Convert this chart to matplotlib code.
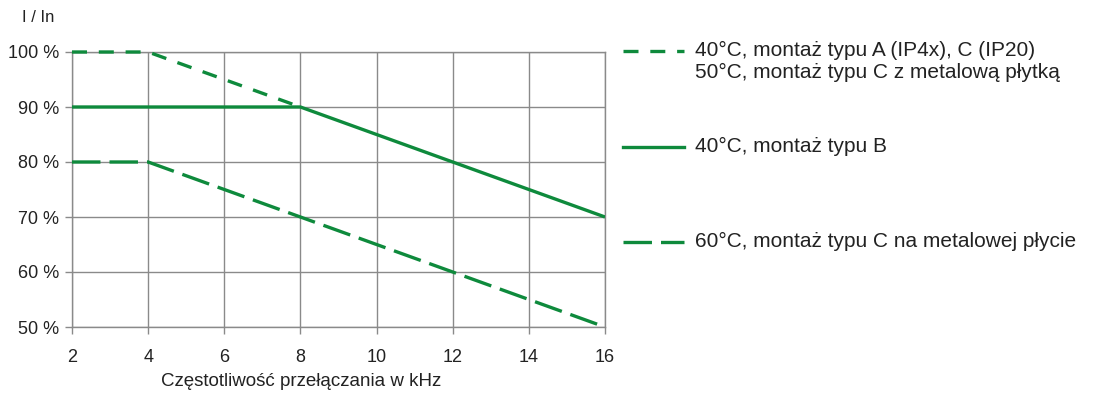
import matplotlib
matplotlib.use("Agg")
import matplotlib.pyplot as plt
from matplotlib.lines import Line2D

plt.rcParams['font.family'] = ['Liberation Sans', 'DejaVu Sans']
plt.rcParams['lines.scale_dashes'] = False

# frequency (kHz) and derating (%)
freq_a = [2, 4, 8]
curve_a = [100, 100, 90]        # 40°C A / C, 50°C C z płytką
freq_b = [2, 8, 16]
curve_b = [90, 90, 70]          # 40°C B
freq_c = [2, 4, 16]
curve_c = [80, 80, 50]          # 60°C C na metalowej płycie

x_ticks = [2, 4, 6, 8, 10, 12, 14, 16]
y_ticks = [50, 60, 70, 80, 90, 100]
legend_labels = [
    '40°C, montaż typu A (IP4x), C (IP20)\n50°C, montaż typu C z metalową płytką',
    '40°C, montaż typu B',
    '60°C, montaż typu C na metalowej płycie',
]

GREEN = '#0e8a3c'
GRAY = '#8a8a8a'
TXT = '#222222'
short_dash = (0, (10.8, 8.5))
long_dash = (0, (20.5, 6.5))

fig = plt.figure(figsize=(11.2, 4.05), dpi=100)
ax = fig.add_axes([72 / 1120, 78 / 405, 533 / 1120, 275 / 405])

ax.plot(freq_b, curve_b, color=GREEN, lw=2.4, solid_capstyle='butt', zorder=3)
ax.plot(freq_c, curve_c, color=GREEN, lw=2.4, linestyle=long_dash,
        dash_capstyle='butt', zorder=3)
ax.plot(freq_a, curve_a, color=GREEN, lw=2.4, linestyle=short_dash,
        dash_capstyle='butt', zorder=3, clip_on=False)

ax.set_xlim(2, 16)
ax.set_ylim(50, 100)
ax.set_xticks(x_ticks)
ax.set_yticks(y_ticks)
ax.set_yticklabels([f'{v} %' for v in y_ticks])
ax.grid(True, color=GRAY, lw=1.0)
for s in ax.spines.values():
    s.set_color(GRAY)
    s.set_linewidth(1.0)
ax.tick_params(direction='out', length=5, width=1.0, color=GRAY,
               labelsize=13, labelcolor=TXT)
ax.tick_params(axis='y', pad=4)
ax.tick_params(axis='x', pad=11)
fig.text(301 / 1120, 1 - 381 / 405, 'Częstotliwość przełączania w kHz',
         fontsize=13.5, color=TXT, ha='center', va='center')
fig.text(22 / 1120, 1 - 18 / 405, 'I / In', fontsize=12, color=TXT,
         va='center', ha='left')

# legend drawn by hand (uneven spacing in the original)
legend_styles = [short_dash, '-', long_dash]
legend_y = [51, 147, 242]
for lbl, ls, yy in zip(legend_labels, legend_styles, legend_y):
    yf = 1 - yy / 405
    fig.add_artist(Line2D([623 / 1120, 684 / 1120], [yf, yf], color=GREEN,
                          lw=2.4, linestyle=ls, dash_capstyle='butt',
                          transform=fig.transFigure))
    fig.text(695 / 1120, yf + 10 / 405, lbl, fontsize=15, color=TXT,
             va='top', ha='left', linespacing=1.18)

fig.savefig('out.png', dpi=100, facecolor='white')
